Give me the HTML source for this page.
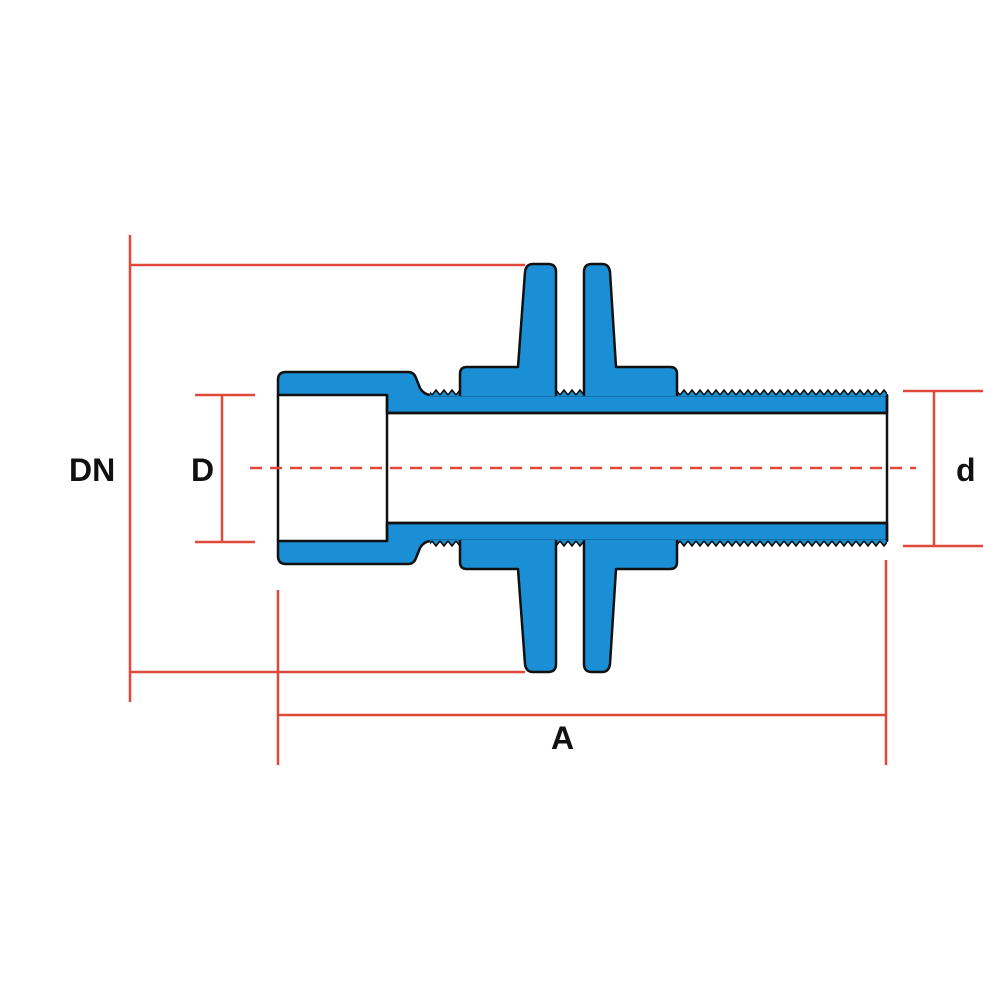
<!DOCTYPE html>
<html><head><meta charset="utf-8"><style>
html,body{margin:0;padding:0;background:#fff;width:1000px;height:1000px;overflow:hidden}
svg{display:block}
text{font-family:"Liberation Sans",sans-serif;font-weight:bold;fill:#111}
</style></head><body>
<svg width="1000" height="1000" viewBox="0 0 1000 1000" xmlns="http://www.w3.org/2000/svg">
<defs>
<pattern id="thr" x="0" y="388" width="8" height="8" patternUnits="userSpaceOnUse">
<path d="M0,7 L4,2 L8,7 L8,8 L0,8 Z" fill="#1a8fd6"/>
<path d="M0,7 L4,2 L8,7" fill="none" stroke="#111" stroke-width="1.6"/>
</pattern>
<g id="half">
<path d="M278,395 L278,380 Q278,372 286,372 L408,372 Q414,372 416,378 L420,388 Q424,395 432,395 L887,395 L887,413 L387,413 L387,395 Z" fill="#1a8fd6" stroke="#111" stroke-width="2.5" stroke-linejoin="round"/>
<rect x="430" y="388" width="457" height="8" fill="url(#thr)"/>
<path d="M460,396 L460,374 Q460,367 467,367 L518,367 L525,272 Q526,264 533,264 L548,264 Q556,264 556,272 L556,396" fill="#1a8fd6" stroke="#111" stroke-width="2.5" stroke-linejoin="round"/>
<path d="M584,396 L584,272 Q584,264 592,264 L602,264 Q609,264 610,272 L616,367 L670,367 Q677,367 677,374 L677,396" fill="#1a8fd6" stroke="#111" stroke-width="2.5" stroke-linejoin="round"/>
<line x1="387" y1="413" x2="887" y2="413" stroke="#111" stroke-width="2.5"/>
</g>
</defs>
<use href="#half"/>
<use href="#half" transform="translate(0,936) scale(1,-1)"/>
<line x1="278" y1="395" x2="278" y2="541" stroke="#111" stroke-width="2.5"/>
<line x1="887" y1="395" x2="887" y2="541" stroke="#111" stroke-width="2.5"/>
<line x1="387" y1="395" x2="387" y2="541" stroke="#111" stroke-width="2.5"/>
<g stroke="#e0493a" stroke-width="2.5" fill="none">
<line x1="130" y1="235" x2="130" y2="702"/>
<line x1="130" y1="265" x2="525" y2="265"/>
<line x1="130" y1="672" x2="525" y2="672"/>
<line x1="195" y1="395" x2="255" y2="395"/>
<line x1="195" y1="542" x2="255" y2="542"/>
<line x1="222" y1="395" x2="222" y2="542"/>
<line x1="903" y1="391" x2="983" y2="391"/>
<line x1="903" y1="546" x2="983" y2="546"/>
<line x1="934" y1="391" x2="934" y2="546"/>
<line x1="278" y1="590" x2="278" y2="765"/>
<line x1="886" y1="560" x2="886" y2="765"/>
<line x1="278" y1="715" x2="886" y2="715"/>
<line x1="250" y1="468" x2="916" y2="468" stroke-dasharray="12,8"/>
</g>
<text x="69" y="481" font-size="32">DN</text>
<text x="191" y="481" font-size="32">D</text>
<text x="956" y="481" font-size="32">d</text>
<text x="551" y="749" font-size="32">A</text>
</svg>
</body></html>
